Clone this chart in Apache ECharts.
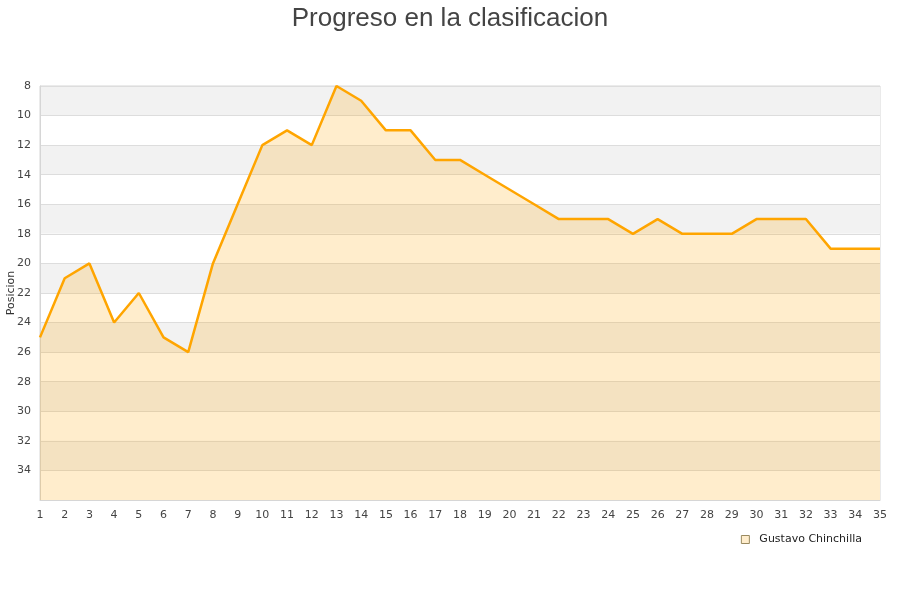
<!DOCTYPE html>
<html><head><meta charset="utf-8">
<script src="https://cdn.jsdelivr.net/npm/echarts@6/dist/echarts.min.js"></script>
<style>html,body{margin:0;padding:0;background:#fff}#c{width:900px;height:600px}</style>
</head><body><div id="c"></div>
<script>
const title = "Progreso en la clasificacion";
const seriesName = "Gustavo Chinchilla";
const yAxisName = "Posicion";
const jornadas = [1,2,3,4,5,6,7,8,9,10,11,12,13,14,15,16,17,18,19,20,21,22,23,24,25,26,27,28,29,30,31,32,33,34,35];
const posiciones = [25,21,20,24,22,25,26,20,16,12,11,12,8,9,11,11,13,13,14,15,16,17,17,17,18,17,18,18,18,17,17,17,19,19,19];
const yMin = 8, yMax = 36, yStep = 2;

const chart = echarts.init(document.getElementById('c'), null, {renderer:'canvas'});
chart.setOption({
  backgroundColor:'#fff',
  animation:false,
  title:{text:title,left:'center',top:1,textStyle:{fontFamily:'Liberation Sans, Arial, sans-serif',fontSize:26,fontWeight:'normal',color:'#444'}},
  grid:{left:40,right:20,top:86,bottom:100,containLabel:false,outerBoundsMode:'none',show:true,borderColor:'#d6d6d6',borderWidth:1,backgroundColor:'transparent'},
  legend:{right:33,top:529,itemWidth:8,itemHeight:8,icon:'rect',itemGap:10,
    textStyle:{fontFamily:'DejaVu Sans, sans-serif',fontSize:11,color:'#222',padding:[0,0,0,5]},
    data:[{name:seriesName,itemStyle:{color:'#ffedcc',borderColor:'#9a8a60',borderWidth:1}}]},
  xAxis:{type:'category',data:jornadas,boundaryGap:false,
    axisLine:{show:true,lineStyle:{color:'#d6d6d6'}},axisTick:{show:false},
    axisLabel:{interval:0,color:'#444',fontSize:11,fontFamily:'DejaVu Sans, sans-serif',margin:10},
    splitLine:{show:false}},
  yAxis:{type:'value',inverse:true,min:yMin,max:yMax,interval:yStep,
    name:yAxisName,nameLocation:'middle',nameGap:23,nameMoveOverlap:false,nameTextStyle:{color:'#333',fontSize:11,fontFamily:'DejaVu Sans, sans-serif'},
    axisLine:{show:true,lineStyle:{color:'#d6d6d6'}},axisTick:{show:false},
    axisLabel:{color:'#444',fontSize:11,fontFamily:'DejaVu Sans, sans-serif',margin:9,
      formatter:function(v){return v===yMax?'':String(v);}},
    splitLine:{show:true,lineStyle:{color:'#dddddd'}},
    splitArea:{show:true,areaStyle:{color:['#f2f2f2','#ffffff']}}},
  series:[{name:seriesName,type:'line',data:posiciones,symbol:'none',
    lineStyle:{color:'#ffa500',width:2.5},itemStyle:{color:'#ffa500'},
    areaStyle:{color:'#ffa500',opacity:0.2,origin:'end'}}]
});
</script></body></html>
